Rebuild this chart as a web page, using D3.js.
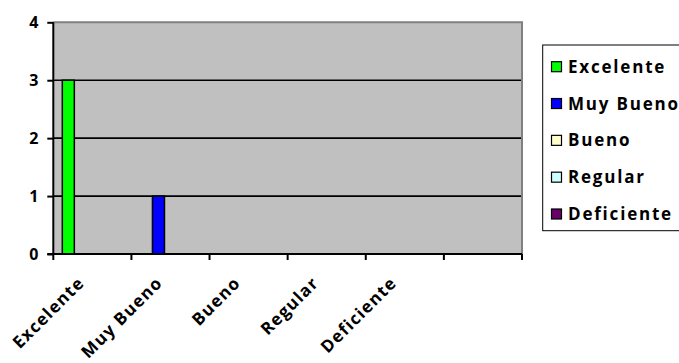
<!DOCTYPE html>
<html>
<head>
<meta charset="utf-8">
<script src="https://cdn.jsdelivr.net/npm/d3@7"></script>
<style>
  html, body { margin: 0; padding: 0; background: #fff; }
  svg { display: block; }
  text { font-family: "Open Sans", Lato, sans-serif; font-weight: bold; fill: #000; }
</style>
</head>
<body>
<svg id="chart" width="679" height="363"></svg>
<script>
// Rating categories along the x axis (the last slot has no label)
const categories = ["Excelente", "Muy Bueno", "Bueno", "Regular", "Deficiente", ""];
// One series per rating
const seriesNames = ["Excelente", "Muy Bueno", "Bueno", "Regular", "Deficiente"];
const seriesColors = ["#00FF00", "#0000FF", "#FFFFCC", "#CCFFFF", "#660066"];
// Counts per series, one value for each category
const excelente  = [3, 0, 0, 0, 0, 0];
const muyBueno   = [0, 1, 0, 0, 0, 0];
const bueno      = [0, 0, 0, 0, 0, 0];
const regular    = [0, 0, 0, 0, 0, 0];
const deficiente = [0, 0, 0, 0, 0, 0];
const yTicks = [0, 1, 2, 3, 4];

const seriesValues = [excelente, muyBueno, bueno, regular, deficiente];

const svg = d3.select("#chart");
const plot = { left: 53.3, right: 522, top: 22.3, bottom: 254 };

const x = d3.scaleBand().domain(d3.range(categories.length))
  .range([plot.left, plot.right]).padding(0);
const xs = d3.scaleBand().domain(seriesNames)
  .range([0, x.bandwidth()]).paddingInner(0).paddingOuter(0.75);
const y = d3.scaleLinear().domain([0, 4]).range([plot.bottom, plot.top]);

// Plot background
svg.append("rect")
  .attr("x", plot.left).attr("y", plot.top)
  .attr("width", plot.right - plot.left).attr("height", plot.bottom - plot.top)
  .attr("fill", "#C0C0C0");

// Horizontal gridlines
svg.append("g").selectAll("line")
  .data(yTicks.filter(t => t > 0 && t < 4))
  .join("line")
  .attr("x1", plot.left).attr("x2", plot.right)
  .attr("y1", d => y(d)).attr("y2", d => y(d))
  .attr("stroke", "#000").attr("stroke-width", 1.6);

// Plot border (top and right)
svg.append("path")
  .attr("d", `M${plot.left},${plot.top}H${plot.right}V${plot.bottom}`)
  .attr("fill", "none").attr("stroke", "#808080").attr("stroke-width", 2);

// Bars
const barData = [];
seriesValues.forEach((vals, si) => {
  vals.forEach((v, ci) => {
    if (v > 0) barData.push({ series: seriesNames[si], color: seriesColors[si], cat: ci, value: v });
  });
});
svg.append("g").selectAll("rect")
  .data(barData)
  .join("rect")
  .attr("x", d => x(d.cat) + xs(d.series))
  .attr("y", d => y(d.value))
  .attr("width", xs.bandwidth())
  .attr("height", d => y(0) - y(d.value))
  .attr("fill", d => d.color)
  .attr("stroke", "#000").attr("stroke-width", 1.5);

// Y axis
const yAxis = svg.append("g")
  .attr("transform", `translate(${plot.left},0)`)
  .call(d3.axisLeft(y).tickValues(yTicks).tickFormat(d3.format("d")).tickSize(6).tickPadding(9));
yAxis.select(".domain").attr("stroke", "#000").attr("stroke-width", 2)
  .attr("d", `M0,${plot.top}V${plot.bottom}`);
yAxis.selectAll(".tick line").attr("stroke", "#000").attr("stroke-width", 2);
yAxis.selectAll(".tick text")
  .style("font-family", "'Open Sans', sans-serif").style("font-weight", "bold")
  .style("font-size", "16px").attr("fill", "#000");

// X axis with ticks on category boundaries
const xAxisG = svg.append("g");
xAxisG.append("line")
  .attr("x1", plot.left - 6).attr("x2", plot.right)
  .attr("y1", plot.bottom).attr("y2", plot.bottom)
  .attr("stroke", "#000").attr("stroke-width", 2);
const boundaries = d3.range(categories.length + 1).map(i =>
  i < categories.length ? x(i) : x(categories.length - 1) + x.bandwidth());
xAxisG.selectAll("line.tick")
  .data(boundaries)
  .join("line").attr("class", "tick")
  .attr("x1", d => d).attr("x2", d => d)
  .attr("y1", plot.bottom).attr("y2", plot.bottom + 6)
  .attr("stroke", "#000").attr("stroke-width", 2);

// Rotated category labels
xAxisG.selectAll("text")
  .data(categories.map((c, i) => ({ c, i })).filter(d => d.c))
  .join("text")
  .attr("transform", d => `translate(${x(d.i) + x.bandwidth() / 2 - 7},284) rotate(-45)`)
  .attr("text-anchor", "end")
  .style("font-size", "17px")
  .style("letter-spacing", "1.2px")
  .text(d => d.c);

// Legend
const legend = svg.append("g");
legend.append("rect")
  .attr("x", 542.7).attr("y", 45)
  .attr("width", 200).attr("height", 185.7)
  .attr("fill", "#fff").attr("stroke", "#000").attr("stroke-width", 1);
const ly = d3.scalePoint().domain(seriesNames).range([66.7, 214]);
const items = legend.selectAll("g.item")
  .data(seriesNames.map((n, i) => ({ n, color: seriesColors[i] })))
  .join("g").attr("class", "item")
  .attr("transform", d => `translate(551,${ly(d.n)})`);
items.append("rect")
  .attr("x", 0.5).attr("y", -5).attr("width", 10).attr("height", 10)
  .attr("fill", d => d.color).attr("stroke", "#000").attr("stroke-width", 1.2);
items.append("text")
  .attr("x", 17).attr("y", 6)
  .style("font-size", "17px")
  .style("letter-spacing", "1.8px")
  .text(d => d.n);
</script>
</body>
</html>
